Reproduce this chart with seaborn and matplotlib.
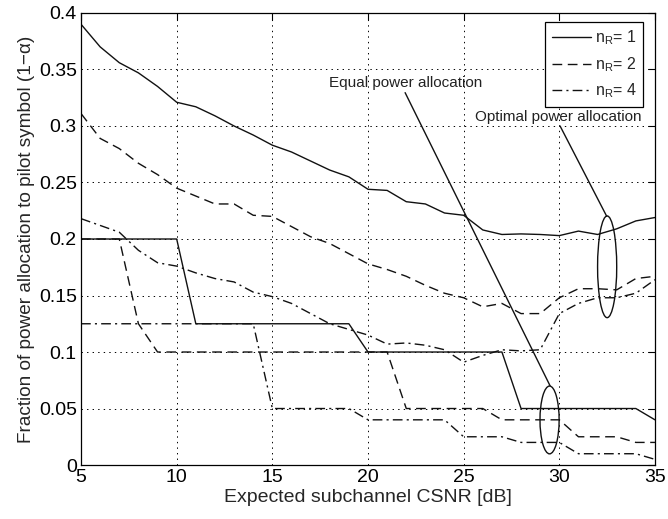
import numpy as np
import pandas as pd
import matplotlib
matplotlib.use("Agg")
import matplotlib.pyplot as plt
from matplotlib.patches import Ellipse
from matplotlib.lines import Line2D
import seaborn as sns

# ---------------- data ----------------
csnr = list(range(5, 36))

opt_n1 = [0.390, 0.370, 0.356, 0.347, 0.335, 0.321, 0.317, 0.309, 0.300, 0.292,
          0.283, 0.277, 0.269, 0.261, 0.255, 0.244, 0.243, 0.233, 0.231, 0.223,
          0.221, 0.208, 0.204, 0.2045, 0.204, 0.203, 0.207, 0.204, 0.209, 0.216,
          0.219]
opt_n2 = [0.311, 0.289, 0.280, 0.267, 0.257, 0.245, 0.238, 0.231, 0.231, 0.221,
          0.220, 0.211, 0.202, 0.196, 0.187, 0.178, 0.173, 0.167, 0.159, 0.152,
          0.148, 0.140, 0.143, 0.134, 0.134, 0.148, 0.156, 0.156, 0.155, 0.165,
          0.167]
opt_n4 = [0.218, 0.212, 0.206, 0.190, 0.179, 0.176, 0.170, 0.165, 0.162, 0.153,
          0.149, 0.143, 0.134, 0.125, 0.120, 0.115, 0.107, 0.108, 0.106, 0.102,
          0.091, 0.097, 0.102, 0.101, 0.102, 0.134, 0.143, 0.148, 0.148, 0.152,
          0.164]

eq_n1 = [0.2] * 6 + [0.125] * 9 + [0.1] * 8 + [0.05] * 7 + [0.04]
eq_n2 = [0.2] * 3 + [0.125] + [0.1] * 13 + [0.05] * 5 + [0.04] * 4 + [0.025] * 3 + [0.02] * 2
eq_n4 = [0.125] * 10 + [0.05] * 5 + [0.04] * 5 + [0.025] * 3 + [0.02] * 3 + [0.01] * 4 + [0.005]

legend_labels = [r"$\mathrm{n_R}$= 1", r"$\mathrm{n_R}$= 2", r"$\mathrm{n_R}$= 4"]
x_ticks = [5, 10, 15, 20, 25, 30, 35]
y_ticks = [0, 0.05, 0.1, 0.15, 0.2, 0.25, 0.3, 0.35, 0.4]
y_tick_labels = ["0", "0.05", "0.1", "0.15", "0.2", "0.25", "0.3", "0.35", "0.4"]

# ---------------- style ----------------
sns.set_style("white")
plt.rcParams["font.family"] = ["Liberation Sans", "DejaVu Sans"]
plt.rcParams["mathtext.fontset"] = "custom"
plt.rcParams["mathtext.rm"] = "Liberation Sans"
plt.rcParams["mathtext.it"] = "Liberation Sans:italic"
plt.rcParams["lines.scale_dashes"] = False

fig = plt.figure(figsize=(6.68, 5.19), dpi=100)
ax = fig.add_axes([0.1213, 0.104, 0.8592, 0.871])

solid = "-"
dashed = (0, (7, 4))
dashdot = (0, (7, 3, 1.5, 3))
lw = 1.0
col = "#111111"

series = [
    (eq_n4, dashdot), (eq_n2, dashed), (eq_n1, solid),
    (opt_n4, dashdot), (opt_n2, dashed), (opt_n1, solid),
]
for vals, ls in series:
    sns.lineplot(x=csnr, y=vals, ax=ax, color=col, linewidth=lw,
                 linestyle=ls, legend=False)

ax.set_xlim(5, 35)
ax.set_ylim(0, 0.4)
ax.set_xticks(x_ticks)
ax.set_xticklabels([str(t) for t in x_ticks])
ax.set_yticks(y_ticks)
ax.set_yticklabels(y_tick_labels)
ax.tick_params(direction="in", length=5, width=0.8, top=True, right=True,
               labelsize=14, colors="black", pad=3)
for s in ax.spines.values():
    s.set_color("black")
    s.set_linewidth(0.9)
ax.grid(True, linestyle=(0, (1, 3)), color="black", linewidth=0.7)

ax.set_xlabel("Expected subchannel CSNR [dB]", fontsize=14, labelpad=2)
ax.set_ylabel("Fraction of power allocation to pilot symbol (1\u2212\u03b1)",
              fontsize=13.7, labelpad=3)

# annotations
ax.add_patch(Ellipse((29.49, 0.0399), 1.0, 0.060, fill=False, edgecolor=col, lw=1.0))
ax.add_patch(Ellipse((32.50, 0.1754), 1.0, 0.090, fill=False, edgecolor=col, lw=1.0))
ax.plot([21.94, 29.52], [0.3295, 0.0700], color=col, lw=1.0)
ax.plot([30.04, 32.48], [0.3000, 0.2200], color=col, lw=1.0)
ax.text(17.96, 0.338, "Equal power allocation", fontsize=11, ha="left", va="center",
        color="#222222")
ax.text(25.6, 0.308, "Optimal power allocation", fontsize=11, ha="left", va="center",
        color="#222222")

handles = [Line2D([], [], color=col, lw=lw, linestyle=ls) for ls in (solid, dashed, dashdot)]
leg = ax.legend(handles, legend_labels, loc="upper right", bbox_to_anchor=(0.979, 0.980),
                borderaxespad=0, fontsize=11.5, handlelength=2.5, handletextpad=0.2,
                labelspacing=0.5, borderpad=0.4, fancybox=False, framealpha=1,
                edgecolor="black")
leg.get_frame().set_linewidth(0.9)

fig.savefig("out.png", dpi=100)
